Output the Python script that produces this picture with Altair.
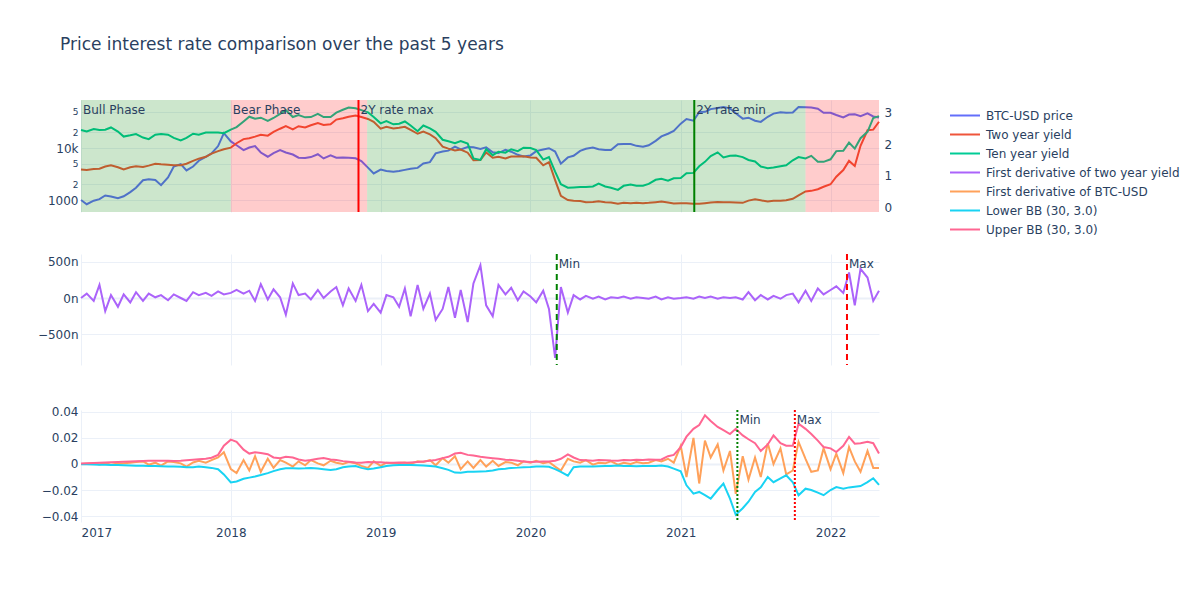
import altair as alt
import pandas as pd

TITLE = "Price interest rate comparison over the past 5 years"
FONT = "DejaVu Sans"
INK = "#2a3f5f"
GRID = "#EBF0F8"
W, H = 798, 112

# semi-monthly sampling, 1st and 15th of each month
dates = list(pd.date_range("2017-01-01", periods=128, freq="SMS")) + [pd.Timestamp("2022-04-29")]

btc_price = [
    1000, 830, 970, 1040, 1220, 1170, 1080, 1180, 1420, 1720, 2400, 2500,
    2430, 1930, 2720, 4380, 4900, 3700, 4400, 5700, 6750, 7850, 10900, 19300,
    13400, 11300, 9100, 10200, 10900, 8200, 6800, 8000, 9100, 8200, 7500, 6500,
    6400, 6700, 7600, 6300, 7200, 6500, 6600, 6500, 6350, 5600, 4200, 3250,
    3850, 3600, 3500, 3600, 3800, 4000, 4150, 5050, 5350, 7900, 8550, 8900,
    10600, 9400, 10400, 10300, 9600, 10300, 8300, 8000, 9200, 8500, 7400, 6900,
    7200, 8700, 9400, 9900, 8550, 5000, 6600, 7100, 8800, 9650, 10200, 9500,
    9200, 9130, 11800, 11900, 11900, 11000, 10600, 11300, 13700, 16700, 18800, 21300,
    29400, 36000, 33500, 49000, 49600, 56000, 59000, 61500, 57800, 46500, 36700, 38300,
    33500, 31800, 39900, 45900, 48800, 47800, 48100, 61500, 61000, 60300, 57000, 47600,
    47700, 43100, 38700, 43900, 44400, 41100, 46300, 40400, 38500,
]
two_year = [
    1.20, 1.18, 1.21, 1.22, 1.29, 1.33, 1.27, 1.20, 1.27, 1.30, 1.28, 1.32,
    1.38, 1.36, 1.35, 1.33, 1.33, 1.38, 1.47, 1.54, 1.60, 1.70, 1.78, 1.84,
    1.89, 2.03, 2.16, 2.19, 2.24, 2.30, 2.27, 2.39, 2.49, 2.57, 2.47, 2.57,
    2.53, 2.60, 2.67, 2.61, 2.63, 2.78, 2.82, 2.87, 2.91, 2.86, 2.80, 2.71,
    2.49, 2.55, 2.50, 2.52, 2.55, 2.45, 2.33, 2.40, 2.31, 2.19, 1.92, 1.86,
    1.80, 1.83, 1.73, 1.49, 1.50, 1.74, 1.57, 1.60, 1.55, 1.61, 1.61, 1.62,
    1.58, 1.57, 1.33, 1.43, 0.86, 0.36, 0.23, 0.21, 0.20, 0.16, 0.17, 0.19,
    0.16, 0.15, 0.11, 0.14, 0.13, 0.14, 0.13, 0.14, 0.16, 0.18, 0.15, 0.12,
    0.13, 0.13, 0.11, 0.11, 0.13, 0.15, 0.17, 0.16, 0.16, 0.15, 0.14, 0.21,
    0.25, 0.22, 0.18, 0.21, 0.21, 0.22, 0.27, 0.38, 0.50, 0.52, 0.57, 0.65,
    0.73, 0.97, 1.18, 1.47, 1.31, 1.95, 2.44, 2.46, 2.71,
]
ten_year = [
    2.45, 2.40, 2.48, 2.45, 2.46, 2.53, 2.40, 2.24, 2.28, 2.32, 2.21, 2.16,
    2.30, 2.32, 2.30, 2.20, 2.12, 2.20, 2.33, 2.30, 2.37, 2.37, 2.37, 2.35,
    2.46, 2.54, 2.72, 2.87, 2.81, 2.84, 2.74, 2.83, 2.96, 3.08, 2.86, 2.92,
    2.85, 2.86, 2.96, 2.86, 2.86, 3.00, 3.09, 3.16, 3.14, 3.08, 3.01, 2.86,
    2.66, 2.73, 2.63, 2.65, 2.72, 2.59, 2.41, 2.59, 2.50, 2.39, 2.14, 2.09,
    2.03, 2.10, 2.02, 1.55, 1.50, 1.84, 1.65, 1.76, 1.73, 1.84, 1.78, 1.89,
    1.88, 1.81, 1.51, 1.59, 1.13, 0.73, 0.62, 0.63, 0.64, 0.64, 0.66, 0.75,
    0.66, 0.62, 0.55, 0.68, 0.72, 0.68, 0.68, 0.74, 0.87, 0.90, 0.84, 0.92,
    0.93, 1.08, 1.09, 1.30, 1.44, 1.62, 1.74, 1.58, 1.63, 1.64, 1.59, 1.50,
    1.45, 1.29, 1.24, 1.26, 1.30, 1.33, 1.49, 1.59, 1.55, 1.63, 1.44, 1.44,
    1.52, 1.78, 1.79, 2.05, 1.86, 2.19, 2.39, 2.83, 2.89,
]
# first derivative of the two year yield, in nano units
d_two_year_nano = [
    0, 60, -40, 180, -180, 40, -120, 50, -60, 80, -40, 60,
    10, 40, -30, 50, 0, -40, 80, 40, 70, 30, 90, 50,
    70, 110, 60, 100, -40, 190, -20, 120, 10, -230, 200, 40,
    60, -20, 110, 0, 90, 150, -100, 130, -40, 180, -180, -80,
    -200, 40, 10, -120, 130, -250, 180, -150, 60, -300, -150, 150,
    -270, 110, -330, 200, 450, -100, -250, 180, 50, 140, -30, 90,
    20, -60, 100, -150, -820, 150, -200, 40, -20, 30, -10, 20,
    -20, 10, 0, 20, -10, 10, 0, -10, 20, -20, 10, -10,
    0, 10, -10, 20, 0, 20, -10, 10, 0, 10, -20, 80,
    -30, 40, -20, 30, -10, 40, 60, -60, 100, -40, 130, 50,
    110, 160, 70, 350, -100, 400, 280, -40, 100,
]
d_btc = [
    0, 0.0002, 0.0005, -0.0003, 0.0008, -0.0006, 0.0004, 0.0006, 0.0010, 0.0015, 0.0020, -0.0005,
    0.0010, -0.0012, 0.0020, 0.0015, 0.0005, -0.0020, 0.0012, 0.0025, 0.0010, 0.0030, 0.0050, 0.0090,
    -0.0040, -0.0070, 0.0030, -0.0050, 0.0060, -0.0060, 0.0040, -0.0030, 0.0030, 0.0010, -0.0020, 0.0020,
    -0.0010, 0.0030, 0.0005, -0.0010, 0.0025, 0.0010, 0.0000, 0.0015, 0.0005, -0.0015, -0.0030, 0.0020,
    -0.0015, 0.0010, 0.0005, 0.0008, 0.0012, 0.0000, 0.0020, 0.0015, 0.0030, -0.0010, 0.0045, 0.0010,
    0.0060, -0.0040, 0.0020, -0.0030, 0.0030, -0.0020, 0.0025, -0.0015, 0.0015, 0.0010, -0.0010, 0.0020,
    0.0010, 0.0025, 0.0005, 0.0015, -0.0020, -0.0050, 0.0040, 0.0020, 0.0010, 0.0030, -0.0005, 0.0010,
    0.0005, 0.0020, -0.0005, 0.0010, 0.0000, 0.0015, 0.0005, 0.0010, 0.0030, 0.0020, 0.0040, 0.0010,
    0.0140, -0.0100, 0.0200, -0.0150, 0.0180, 0.0050, 0.0150, -0.0050, 0.0100, -0.0230, 0.0060, -0.0120,
    0.0050, -0.0100, 0.0160, 0.0000, 0.0120, -0.0080, -0.0050, 0.0170, 0.0040, -0.0060, -0.0050, 0.0120,
    -0.0040, 0.0080, -0.0070, 0.0130, 0.0020, -0.0060, 0.0100, -0.0030, -0.0030,
]
bb_lower = [
    -0.0002, -0.0003, -0.0004, -0.0005, -0.0006, -0.0007, -0.0008, -0.0010, -0.0012, -0.0013, -0.0013, -0.0015,
    -0.0016, -0.0018, -0.0020, -0.0020, -0.0022, -0.0025, -0.0025, -0.0020, -0.0025, -0.0030, -0.0040, -0.0080,
    -0.0142, -0.0135, -0.0114, -0.0105, -0.0096, -0.0085, -0.0070, -0.0055, -0.0040, -0.0033, -0.0033, -0.0035,
    -0.0033, -0.0030, -0.0035, -0.0040, -0.0046, -0.0040, -0.0025, -0.0020, -0.0015, -0.0030, -0.0040, -0.0035,
    -0.0025, -0.0015, -0.0010, -0.0008, -0.0008, -0.0008, -0.0010, -0.0012, -0.0015, -0.0020, -0.0033, -0.0045,
    -0.0066, -0.0067, -0.0060, -0.0060, -0.0058, -0.0056, -0.0050, -0.0040, -0.0036, -0.0030, -0.0028, -0.0025,
    -0.0023, -0.0020, -0.0020, -0.0022, -0.0040, -0.0060, -0.0090, -0.0025, -0.0020, -0.0020, -0.0020, -0.0018,
    -0.0015, -0.0015, -0.0012, -0.0015, -0.0015, -0.0018, -0.0015, -0.0015, -0.0015, -0.0012, -0.0020, -0.0036,
    -0.0056, -0.0164, -0.0228, -0.0215, -0.0240, -0.0267, -0.0200, -0.0150, -0.0267, -0.0390, -0.0340, -0.0290,
    -0.0215, -0.0180, -0.0100, -0.0140, -0.0110, -0.0087, -0.0140, -0.0240, -0.0190, -0.0200, -0.0220, -0.0240,
    -0.0200, -0.0177, -0.0190, -0.0180, -0.0175, -0.0170, -0.0140, -0.0110, -0.0160,
]
bb_upper = [
    0.0003, 0.0006, 0.0008, 0.0010, 0.0012, 0.0013, 0.0015, 0.0017, 0.0019, 0.0021, 0.0023, 0.0024,
    0.0025, 0.0024, 0.0025, 0.0023, 0.0025, 0.0028, 0.0032, 0.0036, 0.0040, 0.0048, 0.0070, 0.0140,
    0.0187, 0.0170, 0.0110, 0.0080, 0.0090, 0.0085, 0.0075, 0.0050, 0.0045, 0.0055, 0.0050, 0.0035,
    0.0025, 0.0030, 0.0040, 0.0045, 0.0035, 0.0030, 0.0022, 0.0018, 0.0012, 0.0010, 0.0015, 0.0013,
    0.0014, 0.0010, 0.0010, 0.0011, 0.0010, 0.0012, 0.0015, 0.0020, 0.0025, 0.0030, 0.0045, 0.0055,
    0.0080, 0.0086, 0.0070, 0.0065, 0.0055, 0.0050, 0.0045, 0.0040, 0.0033, 0.0030, 0.0025, 0.0020,
    0.0015, 0.0018, 0.0020, 0.0020, 0.0025, 0.0040, 0.0074, 0.0050, 0.0030, 0.0028, 0.0025, 0.0030,
    0.0028, 0.0026, 0.0025, 0.0030, 0.0028, 0.0032, 0.0030, 0.0035, 0.0033, 0.0035, 0.0060, 0.0070,
    0.0130, 0.0210, 0.0270, 0.0300, 0.0374, 0.0330, 0.0285, 0.0260, 0.0230, 0.0270, 0.0220, 0.0190,
    0.0160, 0.0100, 0.0150, 0.0220, 0.0160, 0.0140, 0.0140, 0.0310, 0.0270, 0.0230, 0.0180, 0.0130,
    0.0120, 0.0092, 0.0140, 0.0208, 0.0156, 0.0160, 0.0170, 0.0160, 0.0080,
]

series_names = [
    "BTC-USD price", "Two year yield", "Ten year yield",
    "First derivative of two year yield", "First derivative of BTC-USD",
    "Lower BB (30, 3.0)", "Upper BB (30, 3.0)",
]
series_colors = ["#636efa", "#EF553B", "#00cc96", "#ab63fa", "#FFA15A", "#19d3f3", "#FF6692"]

phase_start = ["2017-01-01", "2018-01-01", "2018-11-29", "2021-11-01"]
phase_end = ["2018-01-01", "2018-11-29", "2021-11-01", "2022-04-29"]
phase_fill = ["green", "red", "green", "red"]
phase_label = ["Bull Phase", "Bear Phase", "", ""]

rate_dates = ["2018-11-08", "2021-02-03"]
rate_labels = ["2Y rate max", "2Y rate min"]
rate_colors = ["red", "green"]

deriv_dates = ["2020-03-05", "2022-02-10"]
deriv_labels = ["Min", "Max"]
deriv_colors = ["green", "red"]

bb_dates = ["2021-05-19", "2021-10-06"]
bb_labels = ["Min", "Max"]
bb_colors = ["green", "red"]


def long_df(pairs):
    frames = [pd.DataFrame({"date": dates, "value": vals, "series": name}) for name, vals in pairs]
    return pd.concat(frames, ignore_index=True)


def event_df(days, labels, colors):
    return pd.DataFrame({"date": pd.to_datetime(days), "label": labels, "col": colors})


btc_df = long_df([("BTC-USD price", btc_price)])
yield_df = long_df([("Two year yield", two_year), ("Ten year yield", ten_year)])
dyield_df = long_df([("First derivative of two year yield", [v * 1e-9 for v in d_two_year_nano])])
dbtc_df = long_df([("First derivative of BTC-USD", d_btc),
                   ("Lower BB (30, 3.0)", bb_lower),
                   ("Upper BB (30, 3.0)", bb_upper)])
phase_df = pd.DataFrame({"start": pd.to_datetime(phase_start), "end": pd.to_datetime(phase_end),
                         "fill": phase_fill, "label": phase_label})

x_domain = [alt.DateTime(year=2017, month=1, date=1), alt.DateTime(year=2022, month=4, date=29)]
year_ticks = [alt.DateTime(year=y, month=1, date=1) for y in range(2017, 2023)]
x_scale = alt.Scale(domain=x_domain)


def x_enc(field="date", labels=False):
    return alt.X(f"{field}:T", title=None, scale=x_scale,
                 axis=alt.Axis(values=year_ticks, format="%Y", labels=labels, grid=True,
                               labelPadding=5))


color = alt.Color("series:N", title=None,
                  scale=alt.Scale(domain=series_names, range=series_colors),
                  legend=alt.Legend(orient="none", legendX=875, legendY=6.5))

zero_width = {"condition": {"test": "datum.value === 0", "value": 2}, "value": 1}


def markers(df, dash, height):
    rule = alt.Chart(df).mark_rule(strokeWidth=2, strokeDash=dash).encode(
        x=x_enc(), y=alt.value(0), y2=alt.value(height),
        stroke=alt.Stroke("col:N", scale=None))
    text = alt.Chart(df).mark_text(align="left", baseline="middle", dx=2, font=FONT,
                                   fontSize=12, color=INK).encode(
        x=x_enc(), y=alt.value(10), text="label:N")
    return rule, text


# top panel: price (log, left) and yields (right) with phase shading on top
btc_line = alt.Chart(btc_df).mark_line(strokeWidth=2).encode(
    x=x_enc(),
    y=alt.Y("value:Q", title=None,
            scale=alt.Scale(type="log", domain=[588, 83800], nice=False),
            axis=alt.Axis(values=[1000, 2000, 5000, 10000, 20000, 50000],
                          labelExpr="datum.value == 1000 ? '1000' : datum.value == 10000 ? '10k' : "
                                    "(datum.value == 2000 || datum.value == 20000) ? '2' : '5'",
                          labelFontSize={"condition": {"test": "datum.value == 1000 || datum.value == 10000",
                                                       "value": 12}, "value": 9},
                          labelPadding=3, minExtent=73, maxExtent=73)),
    color=color)

yield_line = alt.Chart(yield_df).mark_line(strokeWidth=2).encode(
    x=x_enc(),
    y=alt.Y("value:Q", title=None,
            scale=alt.Scale(domain=[-0.15, 3.4], nice=False, zero=False),
            axis=alt.Axis(orient="right", values=[0, 1, 2, 3], labelPadding=5)),
    color=color)

phase_rect = alt.Chart(phase_df).mark_rect(opacity=0.2).encode(
    x=x_enc("start"), x2="end:T", y=alt.value(0), y2=alt.value(H),
    fill=alt.Fill("fill:N", scale=None))

phase_text = alt.Chart(phase_df).mark_text(align="left", baseline="middle", dx=2, font=FONT,
                                           fontSize=12, color=INK).encode(
    x=x_enc("start"), y=alt.value(10), text="label:N")

rate_rule, rate_text = markers(event_df(rate_dates, rate_labels, rate_colors), [1, 0], H)

top = alt.layer(btc_line, yield_line, phase_rect, rate_rule, phase_text, rate_text).resolve_scale(
    y="independent").properties(width=W, height=H)

# middle panel: derivative of two year yield
dyield_line = alt.Chart(dyield_df).mark_line(strokeWidth=2).encode(
    x=x_enc(),
    y=alt.Y("value:Q", title=None,
            scale=alt.Scale(domain=[-918e-9, 603e-9], nice=False, zero=False),
            axis=alt.Axis(values=[-5e-7, 0, 5e-7], format="~s", labelPadding=3,
                          minExtent=73, maxExtent=73, gridWidth=zero_width)),
    color=color)
d_rule, d_text = markers(event_df(deriv_dates, deriv_labels, deriv_colors), [6, 4], 111)
mid = alt.layer(dyield_line, d_rule, d_text).properties(width=W, height=111)

# bottom panel: derivative of BTC-USD with Bollinger bands
dbtc_line = alt.Chart(dbtc_df).mark_line(strokeWidth=2).encode(
    x=x_enc(labels=True),
    y=alt.Y("value:Q", title=None,
            scale=alt.Scale(domain=[-0.0446, 0.0415], nice=False, zero=False),
            axis=alt.Axis(values=[-0.04, -0.02, 0, 0.02, 0.04], format=".2~f", labelPadding=3,
                          minExtent=73, maxExtent=73, gridWidth=zero_width)),
    color=color)
b_rule, b_text = markers(event_df(bb_dates, bb_labels, bb_colors), [2, 2], H)
bot = alt.layer(dbtc_line, b_rule, b_text).properties(width=W, height=H)

chart = alt.vconcat(top, mid, bot, spacing=39).properties(
    title=alt.TitleParams(TITLE, anchor="start", font=FONT, fontSize=17, fontWeight="normal",
                          color=INK, dx=52, offset=45),
    padding={"left": 0, "top": 28, "right": 0, "bottom": 5},
).configure_view(stroke=None).configure_axis(
    labelFont=FONT, labelFontSize=12, labelColor=INK, gridColor=GRID, domain=False, ticks=False
).configure_legend(
    symbolType="M-1.875,0H1.875", symbolSize=256, symbolStrokeWidth=2, labelFont=FONT,
    labelFontSize=12, labelColor=INK, labelLimit=300, rowPadding=4, padding=0,
    labelOffset=12
)

chart.save("out.html", embed_options={"renderer": "svg", "actions": False})
